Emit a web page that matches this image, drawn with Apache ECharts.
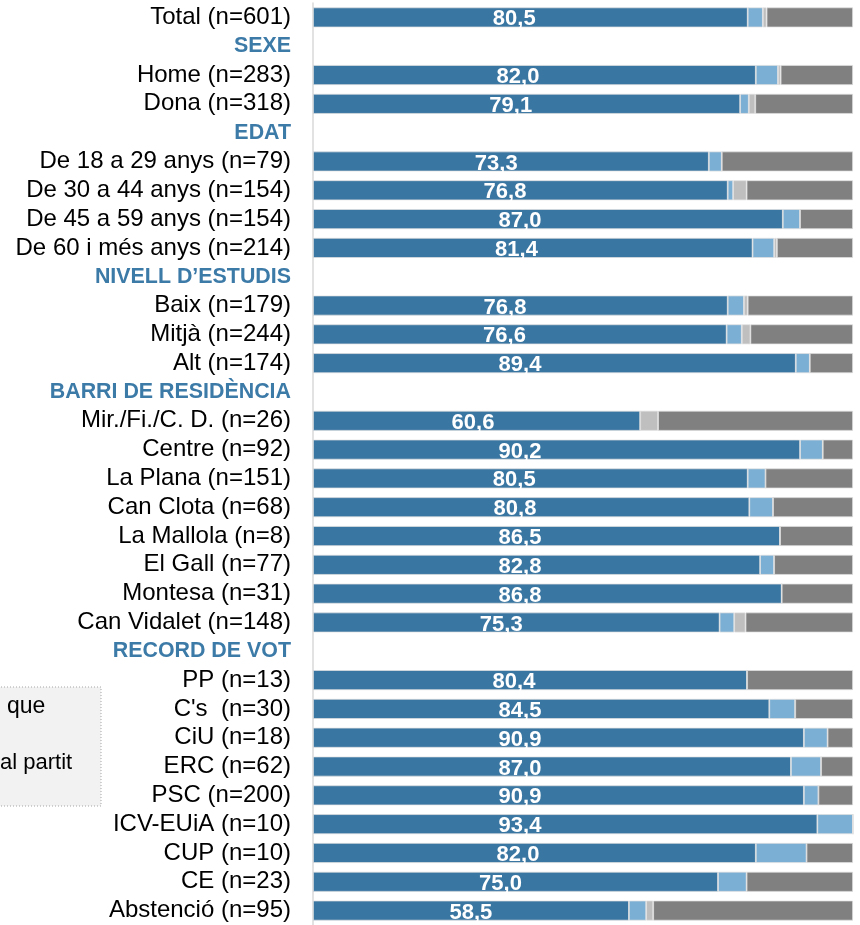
<!DOCTYPE html>
<html><head><meta charset="utf-8">
<script src="https://cdn.jsdelivr.net/npm/echarts@6/dist/echarts.min.js"></script>
<style>html,body{margin:0;padding:0;background:#fff}#c{width:860px;height:925px}</style>
</head><body><div id="c"></div>
<script>
const categories = [
  'Total (n=601)', 'SEXE', 'Home (n=283)', 'Dona (n=318)', 'EDAT',
  'De 18 a 29 anys (n=79)', 'De 30 a 44 anys (n=154)', 'De 45 a 59 anys (n=154)', 'De 60 i més anys (n=214)',
  'NIVELL D\u2019ESTUDIS', 'Baix (n=179)', 'Mitjà (n=244)', 'Alt (n=174)',
  'BARRI DE RESIDÈNCIA', 'Mir./Fi./C. D. (n=26)', 'Centre (n=92)', 'La Plana (n=151)', 'Can Clota (n=68)',
  'La Mallola (n=8)', 'El Gall (n=77)', 'Montesa (n=31)', 'Can Vidalet (n=148)',
  'RECORD DE VOT', 'PP (n=13)', "C's  (n=30)", 'CiU (n=18)', 'ERC (n=62)', 'PSC (n=200)',
  'ICV-EUiA (n=10)', 'CUP (n=10)', 'CE (n=23)', 'Abstenció (n=95)'
];
const headers = ['SEXE', 'EDAT', 'NIVELL D\u2019ESTUDIS', 'BARRI DE RESIDÈNCIA', 'RECORD DE VOT'];

const serie1 = [80.5, null, 82.0, 79.1, null, 73.3, 76.8, 87.0, 81.4, null, 76.8, 76.6, 89.4, null,
  60.6, 90.2, 80.5, 80.8, 86.5, 82.8, 86.8, 75.3, null, 80.4, 84.5, 90.9, 87.0, 90.9, 93.4, 82.0, 75.0, 58.5];
const serie2 = [2.8, null, 4.1, 1.6, null, 2.4, 1.0, 3.2, 4.0, null, 3.0, 2.8, 2.6, null,
  0, 4.2, 3.3, 4.4, 0, 2.6, 0, 2.7, null, 0, 4.8, 4.4, 5.5, 2.7, 6.6, 9.4, 5.3, 3.2];
const serie3 = [0.7, null, 0.5, 1.2, null, 0, 2.5, 0, 0.5, null, 0.7, 1.6, 0, null,
  3.3, 0, 0, 0, 0, 0, 0, 2.1, null, 0, 0, 0, 0, 0, 0, 0, 0, 1.3];
const serie4 = [16.0, null, 13.4, 18.1, null, 24.3, 19.7, 9.8, 14.1, null, 19.5, 19.0, 8.0, null,
  36.1, 5.6, 16.2, 14.8, 13.5, 14.6, 13.2, 19.9, null, 19.6, 10.7, 4.7, 5.8, 6.4, 0, 8.6, 19.7, 37.0];

const raw = [serie1, serie2, serie3, serie4];
const totals = categories.map((c, i) => raw.reduce((s, a) => s + (a[i] || 0), 0));
const pct = raw.map(a => a.map((v, i) => v == null ? null : +(v / totals[i] * 100).toFixed(3)));
const colors = ['#3A76A2', '#7BAFD4', '#BFBFBF', '#808080'];
const names = ['Sèrie 1', 'Sèrie 2', 'Sèrie 3', 'Sèrie 4'];

const GRID_LEFT = 313, GRID_RIGHT = 7, W = 860;
const plotW = W - GRID_LEFT - GRID_RIGHT;
const LABEL_FRAC = 0.463; // label centre as a share of the bar length
const LABEL_CAP = 207;    // px from the axis, labels never further right
const font = 'Liberation Sans, Arial, sans-serif';

const chart = echarts.init(document.getElementById('c'), null, {renderer: 'canvas'});
const series = pct.map((d, k) => ({
  name: names[k], type: 'bar', stack: 'total', barWidth: 20,
  data: d.map(v => {
    if (k !== 0 || v == null) return v;
    const len = v / 100 * plotW;
    const centre = len / 2;
    const want = Math.min(centre, Math.max(len * LABEL_FRAC, Math.min(centre, 160)), LABEL_CAP);
    return {value: v, label: {offset: [want - centre, 2]}};
  }),
  itemStyle: {color: colors[k], borderColor: 'rgba(225,225,225,0.9)', borderWidth: 0.8},
  label: k === 0 ? {
    show: true, position: 'inside', color: '#fff', fontFamily: font,
    fontWeight: 'bold', fontSize: 22,
    formatter: p => serie1[p.dataIndex] == null ? '' : serie1[p.dataIndex].toFixed(1).replace('.', ',')
  } : {show: false},
  emphasis: {disabled: true},
  silent: true
}));

chart.setOption({
  animation: false,
  grid: {left: GRID_LEFT, right: GRID_RIGHT, top: 3, height: 926, containLabel: false},
  xAxis: {type: 'value', min: 0, max: 100, show: false},
  yAxis: {
    type: 'category', inverse: true, data: categories,
    axisLine: {show: true, lineStyle: {color: '#D9D9D9', width: 1.5}},
    axisTick: {show: false},
    axisLabel: {
      interval: 0, hideOverlap: false,
      margin: 22, fontFamily: font, fontSize: 24, color: '#000',
      formatter: v => headers.includes(v) ? '{h|' + v + '}' : v,
      rich: {h: {fontFamily: font, fontSize: 21.4, fontWeight: 'bold', color: '#3C7AA8'}}
    }
  },
  graphic: [
    {type: 'rect', shape: {x: -200, y: 687, width: 301, height: 119},
     style: {fill: '#F2F2F2', stroke: '#A6A6A6', lineWidth: 1, lineDash: [1, 2]}, z: 10},
    {type: 'text', x: 7, y: 707, style: {text: 'que', fontFamily: font, fontSize: 23, fill: '#000', textVerticalAlign: 'middle'}, z: 11},
    {type: 'text', x: 0, y: 763, style: {text: 'al partit', fontFamily: font, fontSize: 22, fill: '#000', textVerticalAlign: 'middle'}, z: 11}
  ],
  series: series
});
</script></body></html>
